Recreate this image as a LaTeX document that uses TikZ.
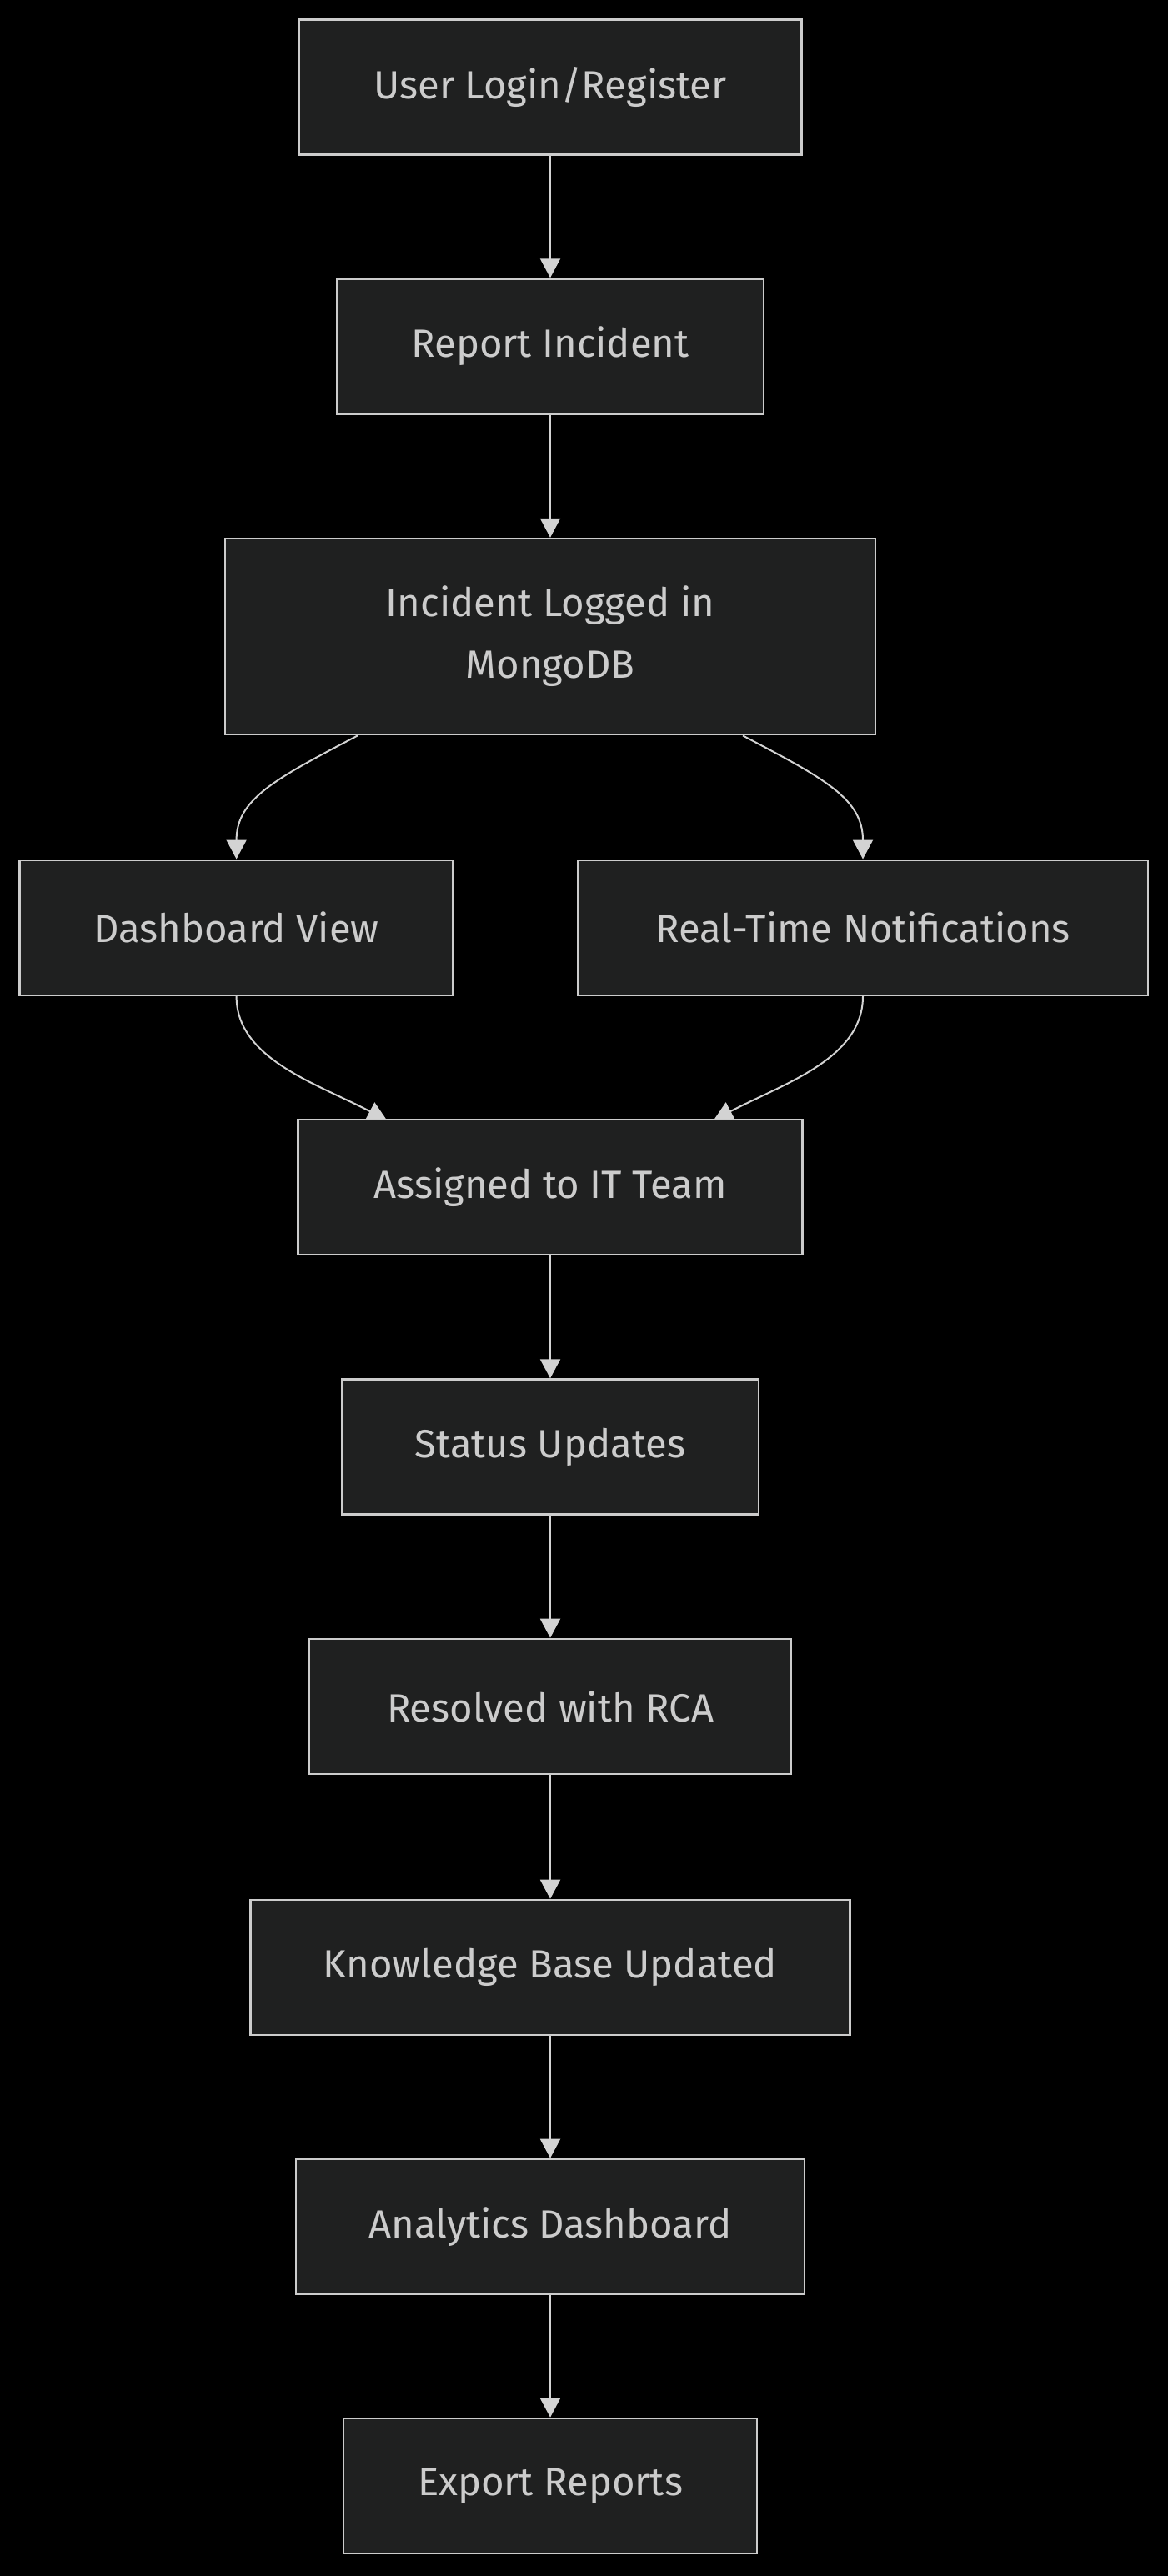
\documentclass[tikz,border=0pt]{standalone}
\usepackage{fontspec}
\setmainfont{Fira Sans}
\usetikzlibrary{arrows.meta}
\definecolor{boxfill}{HTML}{1F2020}
\definecolor{boxline}{HTML}{CCCCCC}
\definecolor{txt}{HTML}{CCCCCC}
\definecolor{edge}{HTML}{D3D3D3}
\pgfdeclarelayer{bglayer}
\pgfdeclarelayer{edgelayer}
\pgfsetlayers{bglayer,edgelayer,main}
\tikzset{
  box/.style={draw=boxline, line width=1.3pt, fill=boxfill, text=txt, minimum height=81pt, inner sep=0pt, align=center, font=\fontsize{23.6}{37}\selectfont},
  conn/.style={draw=edge, line width=1pt, -{Triangle[length=11.5pt,width=12pt]}}
}
\begin{document}
\begin{tikzpicture}[x=1pt,y=-1pt]
\begin{pgfonlayer}{bglayer}
\fill[black] (0,0) rectangle (700.5,1545);
\end{pgfonlayer}
\useasboundingbox (0,0) rectangle (700.5,1545);
\node[box, minimum width=301.5pt] (n1) at (330,52.2) {User Login/Register};
\node[box, minimum width=256pt] (n2) at (330,207.8) {Report Incident};
\node[box, minimum width=390pt, minimum height=117.5pt] (n3) at (330,381.8) {Incident Logged in\\MongoDB};
\node[box, minimum width=260pt] (dash) at (141.8,556.4) {Dashboard View};
\node[box, minimum width=342pt] (rt) at (517.5,556.4) {Real-Time Notifications};
\node[box, minimum width=302.5pt] (as) at (330,712) {Assigned to IT Team};
\node[box, minimum width=250pt] (st) at (330,867.8) {Status Updates};
\node[box, minimum width=289pt] (rs) at (330,1023.5) {Resolved with RCA};
\node[box, minimum width=359.5pt] (kb) at (330,1180) {Knowledge Base Updated};
\node[box, minimum width=305pt] (an) at (330,1335.5) {Analytics Dashboard};
\node[box, minimum width=248pt] (ex) at (330,1491) {Export Reports};
\coordinate (n3l) at ([xshift=-115.5pt]n3.south);
\coordinate (n3r) at ([xshift=115.5pt]n3.south);
\coordinate (asl) at ([xshift=-98pt,yshift=-1pt]as.north);
\coordinate (asr) at ([xshift=98pt,yshift=-1pt]as.north);
\begin{pgfonlayer}{edgelayer}
\draw[conn] (n1) -- (n2);
\draw[conn] (n2) -- (n3);
\draw[conn] (n3l) .. controls +(-49.5,26) and +(0,-36) .. (dash.north);
\draw[conn] (n3r) .. controls +(49.5,26) and +(0,-36) .. (rt.north);
\draw[conn] (dash.south) .. controls +(0,37.5) and +(-42,-22) .. (asl);
\draw[conn] (rt.south) .. controls +(0,37.5) and +(42,-22) .. (asr);
\draw[conn] (as) -- (st);
\draw[conn] (st) -- (rs);
\draw[conn] (rs) -- (kb);
\draw[conn] (kb) -- (an);
\draw[conn] (an) -- (ex);
\end{pgfonlayer}
\end{tikzpicture}
\end{document}
